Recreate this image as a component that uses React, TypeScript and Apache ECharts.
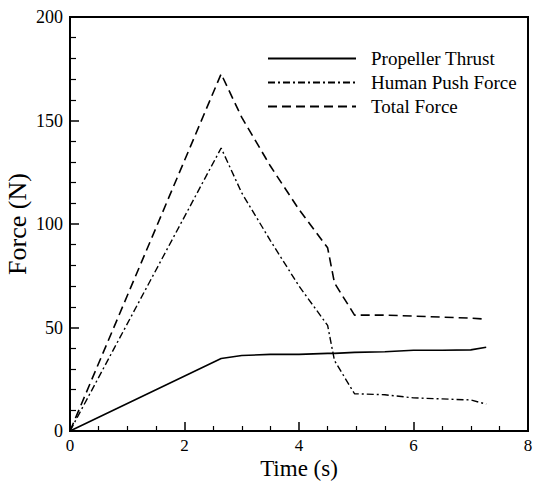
import React, { useEffect, useRef } from "react";
import * as echarts from "echarts";

const time = [0, 2.64, 3.0, 3.5, 4.0, 4.5, 4.62, 4.97, 5.5, 6.0, 6.5, 7.0, 7.27];
const propellerThrust = [0, 35, 36.5, 37, 37, 37.5, 37.5, 38, 38.3, 39, 39, 39.2, 40.5];
const humanPush = [0, 136.7, 115, 92, 70, 51, 34, 18, 17.5, 16, 15.5, 15, 13];
const totalForce = [0, 172.5, 151.5, 128, 107, 88.5, 71.5, 56, 56, 55.5, 55, 54.5, 54];

const xTicks = [0, 2, 4, 6, 8];
const yTicks = [0, 50, 100, 150, 200];

const seriesNames = ["Propeller Thrust", "Human Push Force", "Total Force"];

const FONT = "'Times New Roman', 'Liberation Serif', serif";

function pairs(xs: number[], ys: number[]) {
  return xs.map((x, i) => [x, ys[i]]);
}

export default function App() {
  const ref = useRef<HTMLDivElement>(null);
  useEffect(() => {
    if (!ref.current) return;
    const chart = echarts.init(ref.current, undefined, { renderer: "svg" });
    const lineBase = { color: "#000", width: 1.6 };
    chart.setOption({
      animation: false,
      backgroundColor: "#fff",
      textStyle: { fontFamily: FONT },
      grid: {
        left: 70,
        top: 17,
        right: 5,
        bottom: 50,
        containLabel: false,
        outerBoundsMode: "none",
        show: true,
        borderColor: "#000",
        borderWidth: 2,
        backgroundColor: "transparent",
      },
      legend: {
        orient: "vertical",
        left: 262,
        top: 44,
        itemWidth: 88,
        itemHeight: 18,
        itemGap: 5,
        data: seriesNames,
        itemStyle: { opacity: 0 },
        textStyle: {
          fontFamily: FONT,
          fontSize: 19,
          color: "#000",
          padding: [0, 0, 0, 10],
        },
      },
      xAxis: {
        type: "value",
        min: xTicks[0],
        max: xTicks[xTicks.length - 1],
        interval: 2,
        name: "Time (s)",
        nameLocation: "middle",
        nameGap: 26,
        nameMoveOverlap: false,
        nameTextStyle: { fontFamily: FONT, fontSize: 23, lineHeight: 23, color: "#000" },
        axisLine: { lineStyle: { color: "#000", width: 2 } },
        axisTick: { inside: true, length: 9, lineStyle: { color: "#000", width: 1.5 } },
        minorTick: { show: true, splitNumber: 4, length: 5, lineStyle: { color: "#000", width: 1.2 } },
        splitLine: { show: false },
        axisLabel: { fontFamily: FONT, fontSize: 17, lineHeight: 17, color: "#000", margin: 6 },
      },
      yAxis: {
        type: "value",
        min: yTicks[0],
        max: yTicks[yTicks.length - 1],
        interval: 50,
        name: "Force (N)",
        nameLocation: "middle",
        nameGap: 39,
        nameMoveOverlap: false,
        nameTextStyle: { fontFamily: FONT, fontSize: 26, lineHeight: 28, color: "#000" },
        axisLine: { lineStyle: { color: "#000", width: 2 } },
        axisTick: { inside: true, length: 9, lineStyle: { color: "#000", width: 1.5 } },
        minorTick: { show: true, splitNumber: 5, length: 6, lineStyle: { color: "#000", width: 1.2 } },
        splitLine: { show: false },
        axisLabel: { fontFamily: FONT, fontSize: 18, color: "#000", margin: 7 },
      },
      series: [
        {
          name: seriesNames[0],
          type: "line",
          symbol: "none",
          data: pairs(time, propellerThrust),
          lineStyle: { ...lineBase, type: "solid" },
          itemStyle: { color: "#000" },
        },
        {
          name: seriesNames[1],
          type: "line",
          symbol: "none",
          data: pairs(time, humanPush),
          lineStyle: { ...lineBase, width: 1.4, type: [7, 3, 2, 3] },
          itemStyle: { color: "#000" },
        },
        {
          name: seriesNames[2],
          type: "line",
          symbol: "none",
          data: pairs(time, totalForce),
          lineStyle: { ...lineBase, type: [9, 5] },
          itemStyle: { color: "#000" },
        },
      ],
    });
    return () => chart.dispose();
  }, []);
  return (
    <div
      ref={ref}
      style={{ position: "fixed", left: 0, top: 0, width: 533, height: 481, background: "#fff" }}
    />
  );
}
